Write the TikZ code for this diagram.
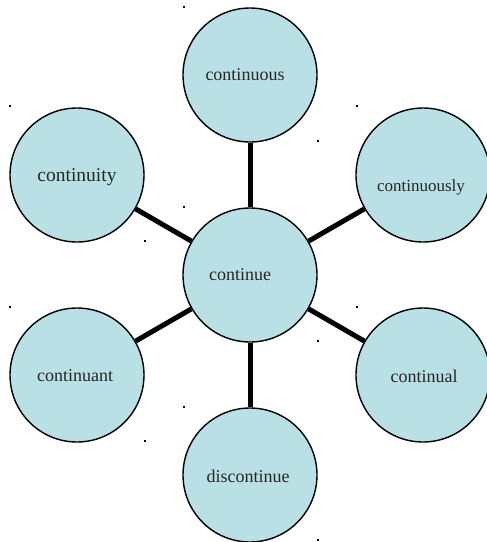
\documentclass[tikz,border=0pt]{standalone}
\usepackage{fontspec}
\setmainfont{Liberation Serif}
\definecolor{bubble}{RGB}{185,224,228}
\begin{document}
\begin{tikzpicture}[x=1pt,y=-1pt,
  bubble/.style={circle,draw=black,line width=1.4pt,fill=bubble,minimum size=134pt,inner sep=0pt},
  word/.style={font=\fontsize{18pt}{20pt}\selectfont,text=black!85,inner sep=0pt},
  link/.style={line width=5pt,black},
  tick/.style={fill=black,draw=none}]
\useasboundingbox (0,0) rectangle (487,542);
\node[bubble] (c)  at (250,275) {};
\node[bubble] (n)  at (250,75) {};
\node[bubble] (nw) at (77,175) {};
\node[bubble] (ne) at (423,175) {};
\node[bubble] (sw) at (77,375) {};
\node[bubble] (se) at (423,375) {};
\node[bubble] (s)  at (250,475) {};
\foreach \o in {n,nw,ne,sw,se,s} \draw[link] (c) -- (\o);
\node[word] (tc)  at (240,275) {continue};
\node[word] (tn)  at (245,75) {continuous};
\node[word,font=\fontsize{19.5pt}{21pt}\selectfont] (tnw) at (77,177) {continuity};
\node[word,font=\fontsize{17pt}{19pt}\selectfont] (tne) at (421,187) {continuously};
\node[word] (tsw) at (75,376) {continuant};
\node[word] (tse) at (424,376) {continual};
\node[word] (ts)  at (248,476) {discontinue};
\foreach \x/\y in {184/7,10/106,357/106,318/141,184/207,145/241,10/307,357/307,318/341,184/407,145/441,318/540}
  \fill[tick] (\x-1,\y-0.6) rectangle (\x+1,\y+0.6);
\end{tikzpicture}
\end{document}
